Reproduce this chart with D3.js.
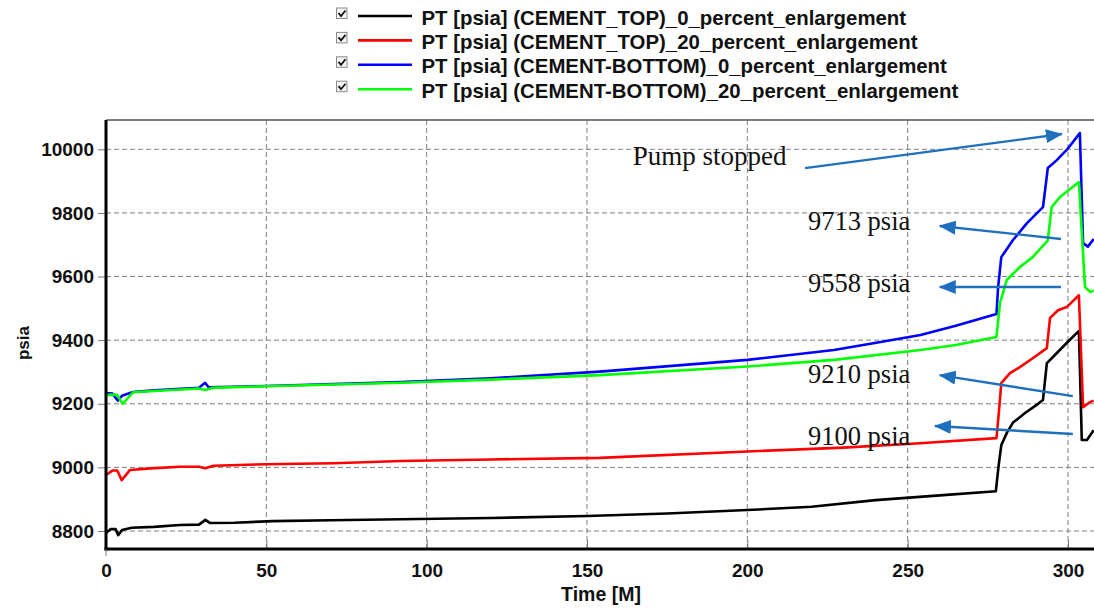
<!DOCTYPE html>
<html>
<head>
<meta charset="utf-8">
<script src="https://cdn.jsdelivr.net/npm/d3@7"></script>
<style>
  body { margin: 0; background: #fff; }
  svg { display: block; }
</style>
</head>
<body>
<svg id="chart"></svg>
<script>
// series values (time in minutes, pressure in psia)
var timeTop0 = [0, 1.5, 3, 3.8, 5, 8, 15, 23, 29, 31, 32.5, 40, 52, 70, 92, 120, 150, 175, 200, 220, 240, 260, 277.5, 278.3, 279.2, 281, 282.8, 286.6, 290, 292.2, 293.4, 295.3, 299.6, 303.4, 304.3, 305.9, 308];
var psiaTop0 = [8794, 8806, 8806, 8787, 8803, 8810, 8813, 8819, 8820, 8835, 8825, 8826, 8831, 8834, 8837, 8841, 8847, 8855, 8866, 8876, 8897, 8912, 8925, 9000, 9070, 9110, 9140, 9171, 9195, 9212, 9328, 9347, 9391, 9429, 9086, 9086, 9117];

var timeTop20 = [0, 2, 3.5, 4.9, 7.5, 14, 23, 29, 31, 33.5, 50, 71, 92, 120, 154, 200, 230, 253.8, 277.7, 278.5, 279.2, 281.9, 285, 289, 293.4, 294.4, 296.9, 299.6, 303.4, 304.7, 306.8, 308];
var psiaTop20 = [8976, 8990, 8990, 8960, 8992, 8997, 9002, 9002, 8997, 9005, 9010, 9013, 9020, 9025, 9030, 9050, 9062, 9076, 9092, 9180, 9265, 9296, 9315, 9343, 9375, 9470, 9494, 9504, 9541, 9189, 9205, 9210];

var timeBot0 = [0, 2, 3.7, 5, 8.4, 15, 29, 30.9, 32, 50, 92, 120, 154, 200, 227, 242, 254, 265, 277.7, 278.2, 279.2, 282.8, 287.2, 292.2, 293.7, 296.5, 299.6, 303.7, 304.7, 306.2, 308];
var psiaBot0 = [9234, 9232, 9210, 9225, 9237, 9242, 9250, 9266, 9252, 9256, 9268, 9280, 9301, 9338, 9369, 9395, 9416, 9445, 9482, 9567, 9661, 9714, 9768, 9818, 9941, 9966, 9998, 10051, 9705, 9694, 9718];

var timeBot20 = [0, 2, 3.5, 5.2, 8.4, 15, 29, 31, 33, 50, 92, 120, 154, 200, 227, 254, 265, 277.7, 278.8, 280.9, 285, 289, 293.7, 294.9, 297.5, 303.4, 305.3, 307, 308];
var psiaBot20 = [9228, 9228, 9228, 9200, 9236, 9240, 9248, 9243, 9250, 9255, 9266, 9276, 9290, 9317, 9338, 9369, 9385, 9410, 9517, 9589, 9630, 9661, 9714, 9818, 9850, 9897, 9567, 9551, 9556];

var seriesNames = [
    "PT [psia] (CEMENT_TOP)_0_percent_enlargement",
    "PT [psia] (CEMENT_TOP)_20_percent_enlargement",
    "PT [psia] (CEMENT-BOTTOM)_0_percent_enlargement",
    "PT [psia] (CEMENT-BOTTOM)_20_percent_enlargement"
];
var seriesColors = ["#000000", "#ff0000", "#0000ff", "#00ff00"];

var xTicks = [0, 50, 100, 150, 200, 250, 300];
var yTicks = [8800, 9000, 9200, 9400, 9600, 9800, 10000];

// annotations: label text, label position, arrow tail, arrow head (data units)
var noteText = ["Pump stopped", "9713 psia", "9558 psia", "9210 psia", "9100 psia"];
var noteAt = [[164.3, 9951], [218.9, 9746], [218.9, 9552], [218.9, 9265], [218.9, 9070]];
var arrowFrom = [[218, 9941], [297.8, 9718], [297.8, 9567], [301.5, 9224], [301.5, 9105]];
var arrowTo = [[298.1, 10048], [260, 9759], [260, 9567], [260, 9290], [258.5, 9130]];

var svgWidth = 1094, svgHeight = 611;
var plotLeft = 106, plotTop = 120, plotRight = 1110, plotBottom = 549;

var svg = d3.select('#chart')
    .attr("width", svgWidth)
    .attr("height", svgHeight);

var xScale = d3.scaleLinear()
    .domain([0, 300])
    .range([106, 1068]);

var yScale = d3.scaleLinear()
    .domain([8800, 10000])
    .range([531, 149.3]);

svg.append("clipPath")
    .attr("id", "plotClip")
    .append("rect")
    .attr("x", plotLeft)
    .attr("y", plotTop)
    .attr("width", plotRight - plotLeft)
    .attr("height", plotBottom - plotTop);

// GRID
svg.append("g")
    .selectAll("line")
    .data(yTicks)
    .enter()
    .append("line")
    .attr("x1", plotLeft)
    .attr("x2", plotRight)
    .attr("y1", function (d) { return yScale(d); })
    .attr("y2", function (d) { return yScale(d); })
    .attr("stroke", "#808080")
    .attr("stroke-width", 1)
    .attr("stroke-dasharray", "5,3");

svg.append("g")
    .selectAll("line")
    .data(xTicks.filter(function (d) { return d > 0; }))
    .enter()
    .append("line")
    .attr("y1", plotTop)
    .attr("y2", plotBottom)
    .attr("x1", function (d) { return xScale(d); })
    .attr("x2", function (d) { return xScale(d); })
    .attr("stroke", "#808080")
    .attr("stroke-width", 1)
    .attr("stroke-dasharray", "5,3");

// top border
svg.append("line")
    .attr("x1", plotLeft).attr("x2", plotRight)
    .attr("y1", plotTop).attr("y2", plotTop)
    .attr("stroke", "#555")
    .attr("stroke-width", 1.5);

// LINES
var allTimes = [timeTop0, timeTop20, timeBot0, timeBot20];
var allPsia = [psiaTop0, psiaTop20, psiaBot0, psiaBot20];

var line = d3.line()
    .x(function (d) { return xScale(d[0]); })
    .y(function (d) { return yScale(d[1]); });

var lineGroup = svg.append("g").attr("clip-path", "url(#plotClip)");
for (var s = 0; s < 4; s++) {
    var pts = allTimes[s].map(function (t, i) { return [t, allPsia[s][i]]; });
    lineGroup.append("path")
        .datum(pts)
        .attr("d", line)
        .attr("fill", "none")
        .attr("stroke", seriesColors[s])
        .attr("stroke-width", 2.6)
        .attr("stroke-linejoin", "round");
}

// AXES
var y_axis = d3.axisLeft(yScale)
    .tickValues(yTicks)
    .tickSize(8)
    .tickPadding(4)
    .tickFormat(d3.format("d"));

var yAxisG = svg.append("g")
    .attr("transform", "translate(" + plotLeft + ",0)")
    .call(y_axis);
yAxisG.select(".domain").remove();
yAxisG.selectAll(".tick line").attr("stroke", "#777");
yAxisG.selectAll("text")
    .attr("font-family", "Liberation Sans, Arial, sans-serif")
    .attr("font-weight", "bold")
    .attr("font-size", 19)
    .attr("fill", "#111");

var x_axis = d3.axisBottom(xScale)
    .tickValues(xTicks)
    .tickSize(7)
    .tickPadding(8)
    .tickFormat(d3.format("d"));

var xAxisG = svg.append("g")
    .attr("transform", "translate(0," + plotBottom + ")")
    .call(x_axis);
xAxisG.select(".domain").remove();
xAxisG.selectAll(".tick line").attr("stroke", "#777").attr("y1", -9).attr("y2", 0);
xAxisG.selectAll("text")
    .attr("font-family", "Liberation Sans, Arial, sans-serif")
    .attr("font-weight", "bold")
    .attr("font-size", 19)
    .attr("fill", "#111");

// axis lines
svg.append("line")
    .attr("x1", plotLeft).attr("x2", plotLeft)
    .attr("y1", plotTop).attr("y2", plotBottom + 1.5)
    .attr("stroke", "#000").attr("stroke-width", 3);
svg.append("line")
    .attr("x1", plotLeft - 1.5).attr("x2", plotRight)
    .attr("y1", plotBottom).attr("y2", plotBottom)
    .attr("stroke", "#000").attr("stroke-width", 3);
svg.append("line")
    .attr("x1", plotLeft).attr("x2", plotLeft)
    .attr("y1", plotBottom).attr("y2", plotBottom + 7)
    .attr("stroke", "#777").attr("stroke-width", 1);

// axis titles
svg.append("text")
    .text("Time [M]")
    .attr("x", 601)
    .attr("y", 601)
    .attr("text-anchor", "middle")
    .attr("font-family", "Liberation Sans, Arial, sans-serif")
    .attr("font-weight", "bold")
    .attr("font-size", 19.5)
    .attr("fill", "#111");

svg.append("text")
    .text("psia")
    .attr("transform", "translate(29,343) rotate(-90)")
    .attr("text-anchor", "middle")
    .attr("font-family", "Liberation Sans, Arial, sans-serif")
    .attr("font-weight", "bold")
    .attr("font-size", 17)
    .attr("fill", "#111");

// LEGEND
var legend = svg.append("g");
var rows = legend.selectAll("g")
    .data(seriesNames)
    .enter()
    .append("g")
    .attr("transform", function (d, i) { return "translate(0," + (16 + i * 24.4) + ")"; });

rows.append("rect")
    .attr("x", 336.5).attr("y", -8)
    .attr("width", 10.5).attr("height", 10.5)
    .attr("fill", "#f4f4f4")
    .attr("stroke", "#8a8a8a")
    .attr("stroke-width", 1);
rows.append("path")
    .attr("d", "M338.5,-3 L341,0 L345.5,-5.5")
    .attr("fill", "none")
    .attr("stroke", "#111")
    .attr("stroke-width", 1.8);
rows.append("line")
    .attr("x1", 358).attr("x2", 412)
    .attr("y1", 0).attr("y2", 0)
    .attr("stroke", function (d, i) { return seriesColors[i]; })
    .attr("stroke-width", 2.6);
rows.append("text")
    .text(function (d) { return d; })
    .attr("x", 421.5)
    .attr("y", 8.5)
    .attr("font-family", "Liberation Sans, Arial, sans-serif")
    .attr("font-weight", "bold")
    .attr("font-size", 20.4)
    .attr("fill", "#111");

// ANNOTATIONS
var arrowColor = "#1f6fbf";
svg.append("defs").append("marker")
    .attr("id", "arrowHead")
    .attr("markerUnits", "userSpaceOnUse")
    .attr("viewBox", "0 0 17 14")
    .attr("refX", 16)
    .attr("refY", 7)
    .attr("markerWidth", 17)
    .attr("markerHeight", 14)
    .attr("orient", "auto")
    .append("path")
    .attr("d", "M0,0 L17,7 L0,14 Z")
    .attr("fill", arrowColor);

var notes = svg.append("g");
notes.selectAll("line")
    .data(arrowFrom)
    .enter()
    .append("line")
    .attr("x1", function (d) { return xScale(d[0]); })
    .attr("y1", function (d) { return yScale(d[1]); })
    .attr("x2", function (d, i) { return xScale(arrowTo[i][0]); })
    .attr("y2", function (d, i) { return yScale(arrowTo[i][1]); })
    .attr("stroke", arrowColor)
    .attr("stroke-width", 2.4)
    .attr("marker-end", "url(#arrowHead)");

notes.selectAll("text")
    .data(noteText)
    .enter()
    .append("text")
    .text(function (d) { return d; })
    .attr("x", function (d, i) { return xScale(noteAt[i][0]); })
    .attr("y", function (d, i) { return yScale(noteAt[i][1]); })
    .attr("font-family", "Liberation Serif, Times New Roman, serif")
    .attr("font-size", function (d, i) { return i == 0 ? 27 : 26.5; })
    .attr("fill", "#111");
</script>
</body>
</html>
